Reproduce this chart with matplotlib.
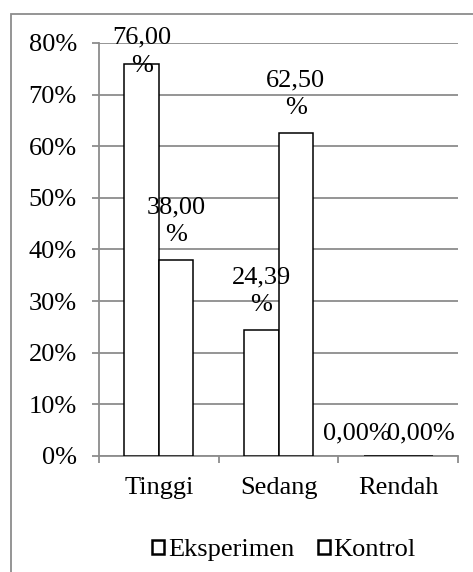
import matplotlib
matplotlib.use("Agg")
import matplotlib.pyplot as plt
from matplotlib.patches import Rectangle, Patch
from matplotlib.ticker import FixedLocator, FuncFormatter
import numpy as np

categories = ["Tinggi", "Sedang", "Rendah"]
series_names = ["Eksperimen", "Kontrol"]
eksperimen = [76.00, 24.39, 0.00]
kontrol = [38.00, 62.50, 0.00]
y_ticks = [0, 10, 20, 30, 40, 50, 60, 70, 80]

plt.rcParams['font.family'] = ['Liberation Serif', 'DejaVu Serif']
FS = 19
GRAY = '#8c8c8c'

fig = plt.figure(figsize=(4.73, 5.72), dpi=100)
ax = fig.add_axes([99/473, 1-456/572, (458-99)/473, (456-43)/572])

x = np.arange(len(categories))
w = 0.2875
series = [eksperimen, kontrol]
offsets = [-w/2, w/2]
label_cap = 73.5
zero_dx = [-17, 4]

for si, vals in enumerate(series):
    xs = x + offsets[si]
    ax.bar(xs, vals, width=w, color='white', edgecolor='black', linewidth=1.1, zorder=3)
    for xi, v in zip(xs, vals):
        txt = f"{v:.2f}".replace('.', ',')
        if v > 0:
            txt = txt + "\n%"
            ann_y = min(v, label_cap)
            off = 10 if v < label_cap else 0
            ax.annotate(txt, xy=(xi, ann_y), xytext=(0, off), textcoords='offset points',
                        ha='center', va='bottom', fontsize=FS, linespacing=1.35,
                        annotation_clip=False, zorder=4)
        else:
            txt = txt + "%"
            ax.annotate(txt, xy=(xi, v), xytext=(zero_dx[si], 8), textcoords='offset points',
                        ha='center', va='bottom', fontsize=FS,
                        annotation_clip=False, zorder=4)

ax.set_xlim(-0.5, len(categories) - 0.5)
ax.set_ylim(0, 80)
ax.yaxis.set_major_locator(FixedLocator(y_ticks))
ax.yaxis.set_major_formatter(FuncFormatter(lambda v, p: f"{int(v)}%"))
ax.set_xticks(x)
ax.set_xticklabels(categories)
ax.xaxis.set_minor_locator(FixedLocator(np.arange(len(categories) + 1) - 0.5))

ax.grid(axis='y', color=GRAY, linewidth=1.3, zorder=0)
ax.set_axisbelow(True)
for s in ['top', 'right']:
    ax.spines[s].set_visible(False)
ax.spines['left'].set_color(GRAY)
ax.spines['bottom'].set_color(GRAY)
ax.spines['left'].set_linewidth(1.3)
ax.spines['bottom'].set_linewidth(1.3)

ax.tick_params(axis='y', which='major', length=5, color=GRAY, width=1.3, labelsize=FS, pad=11)
ax.tick_params(axis='x', which='major', length=0, labelsize=FS, pad=15)
ax.tick_params(axis='x', which='minor', length=5, color=GRAY, width=1.3)

handles = [Patch(facecolor='white', edgecolor='black', linewidth=1.8, label=n) for n in series_names]
fig.legend(handles=handles, loc='center', bbox_to_anchor=(284/473, 1-550/572), ncol=2,
           frameon=False, fontsize=FS, handlelength=0.45, handleheight=0.45,
           handletextpad=0.15, columnspacing=0.9, borderaxespad=0)

fig.patches.append(Rectangle((11/473, -0.1), 1.2, 1-14/572+0.1, transform=fig.transFigure,
                             fill=False, edgecolor=GRAY, linewidth=1.3))

fig.savefig("out.png", dpi=100)
